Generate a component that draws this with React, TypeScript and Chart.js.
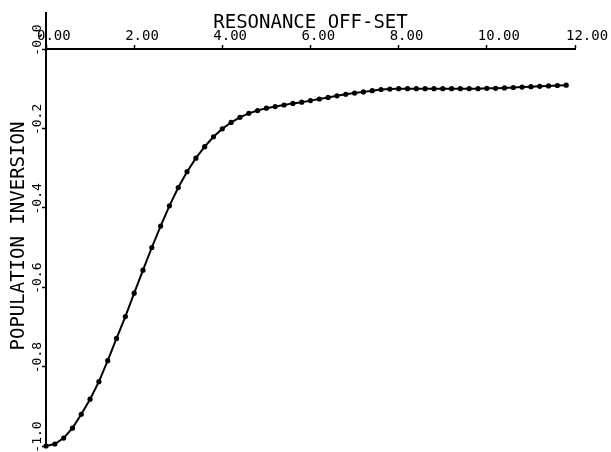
import React, { useEffect, useRef } from "react";
import { Chart, registerables } from "chart.js";

Chart.register(...registerables);

// Resonance off-set (x) sample positions
const xValues = [
  0.0, 0.2, 0.4, 0.6, 0.8, 1.0, 1.2, 1.4, 1.6, 1.8,
  2.0, 2.2, 2.4, 2.6, 2.8, 3.0, 3.2, 3.4, 3.6, 3.8,
  4.0, 4.2, 4.4, 4.6, 4.8, 5.0, 5.2, 5.4, 5.6, 5.8,
  6.0, 6.2, 6.4, 6.6, 6.8, 7.0, 7.2, 7.4, 7.6, 7.8,
  8.0, 8.2, 8.4, 8.6, 8.8, 9.0, 9.2, 9.4, 9.6, 9.8,
  10.0, 10.2, 10.4, 10.6, 10.8, 11.0, 11.2, 11.4, 11.6, 11.8,
];

// Population inversion values
const yValues = [
  -1.0, -0.995, -0.98, -0.955, -0.92, -0.882, -0.838, -0.785, -0.729, -0.674,
  -0.615, -0.557, -0.5, -0.446, -0.395, -0.349, -0.309, -0.275, -0.246, -0.221,
  -0.201, -0.185, -0.172, -0.162, -0.155, -0.149, -0.145, -0.141, -0.137, -0.134,
  -0.13, -0.126, -0.122, -0.118, -0.114, -0.111, -0.108, -0.105, -0.102, -0.101,
  -0.1, -0.1, -0.1, -0.1, -0.1, -0.1, -0.1, -0.1, -0.1, -0.1,
  -0.099, -0.099, -0.098, -0.097, -0.096, -0.095, -0.094, -0.093, -0.092, -0.091,
];

const xTickLabels = ["0.00", "2.00", "4.00", "6.00", "8.00", "10.00", "12.00"];
const yTickLabels = ["-1.0", "-0.8", "-0.6", "-0.4", "-0.2", "-0.0"];
const xTitle = "RESONANCE OFF-SET";
const yTitle = "POPULATION INVERSION";

const FONT = "'DejaVu Sans Mono', monospace";

const axisExtension = {
  id: "axisExtension",
  afterDraw(chart: any) {
    const ys = chart.scales.y;
    const ctx = chart.ctx;
    ctx.save();
    ctx.strokeStyle = "#000";
    ctx.lineWidth = 2;
    ctx.beginPath();
    ctx.moveTo(ys.right, chart.chartArea.top);
    ctx.lineTo(ys.right, 12);
    ctx.stroke();
    ctx.restore();
  },
};

export default function App() {
  const canvasRef = useRef<HTMLCanvasElement | null>(null);

  useEffect(() => {
    if (!canvasRef.current) return;
    const points = xValues.map((x, i) => ({ x, y: yValues[i] }));
    const chart = new Chart(canvasRef.current, {
      type: "line",
      data: {
        datasets: [
          {
            data: points,
            borderColor: "#000",
            borderWidth: 2,
            pointRadius: 2.6,
            pointBackgroundColor: "#000",
            pointBorderWidth: 0,
            tension: 0,
            clip: false as any,
          },
        ],
      },
      options: {
        animation: false,
        responsive: false,
        devicePixelRatio: 1,
        layout: { padding: { left: 0, right: 36, top: 0, bottom: 6 } },
        plugins: { legend: { display: false }, tooltip: { enabled: false } },
        scales: {
          x: {
            type: "linear",
            position: "top",
            min: 0,
            max: 12,
            afterFit: (s: any) => {
              s.height = 49;
              s.paddingLeft = 0;
              s.paddingRight = 0;
            },
            ticks: {
              stepSize: 2,
              align: "start",
              labelOffset: -9,
              padding: 0,
              autoSkip: false,
              maxRotation: 0,
              minRotation: 0,
              color: "#000",
              font: { family: FONT, size: 14 },
              callback: (_v: any, i: number) => xTickLabels[i] ?? "",
            },
            grid: {
              drawOnChartArea: false,
              drawTicks: true,
              tickLength: 4,
              tickWidth: 1.5,
              color: "#000",
            },
            border: { display: true, color: "#000", width: 2 },
            title: {
              display: true,
              text: xTitle,
              color: "#000",
              font: { family: FONT, size: 19 },
              padding: { top: 12, bottom: 0 },
            },
          },
          y: {
            type: "linear",
            position: "left",
            min: -1,
            max: 0,
            afterFit: (s: any) => {
              s.width = 46;
              s.paddingTop = 0;
              s.paddingBottom = 0;
            },
            ticks: {
              stepSize: 0.2,
              minRotation: 90,
              maxRotation: 90,
              crossAlign: "center",
              padding: -11,
              labelOffset: -9,
              autoSkip: false,
              color: "#000",
              font: { family: FONT, size: 13 },
              callback: (_v: any, i: number) => yTickLabels[i] ?? "",
            },
            grid: {
              drawOnChartArea: false,
              drawTicks: true,
              tickLength: 4,
              tickWidth: 1.5,
              color: "#000",
            },
            border: { display: true, color: "#000", width: 2 },
            title: {
              display: true,
              text: "  " + yTitle,
              color: "#000",
              font: { family: FONT, size: 19 },
              padding: { top: 8, bottom: 0 },
            },
          },
        },
      } as any,
      plugins: [axisExtension],
    });
    return () => chart.destroy();
  }, []);

  return (
    <div style={{ position: "absolute", left: 0, top: 0, width: 611, height: 452, background: "#fff" }}>
      <canvas ref={canvasRef} width={611} height={452} style={{ width: 611, height: 452 }} />
    </div>
  );
}
